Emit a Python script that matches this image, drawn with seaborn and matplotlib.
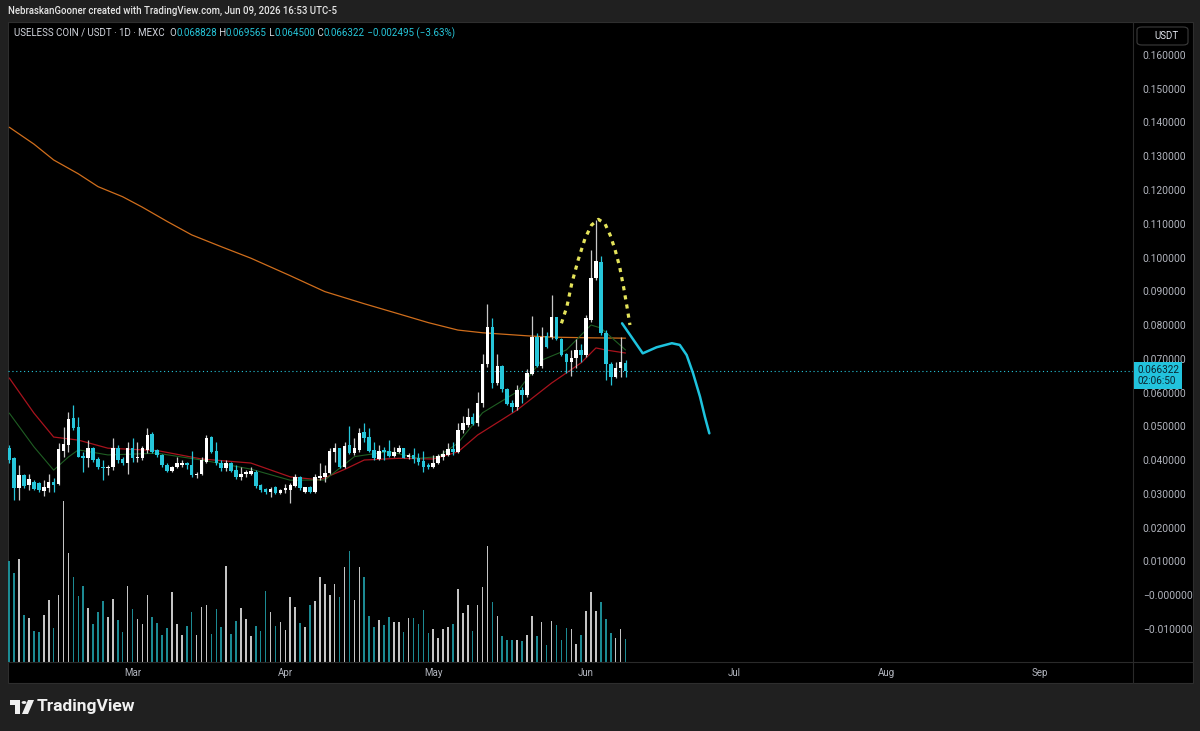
import matplotlib
matplotlib.use('Agg')
import matplotlib.pyplot as plt
import matplotlib.dates as mdates
import matplotlib.transforms as mtransforms
from matplotlib.patches import Rectangle, FancyBboxPatch, Polygon, Circle
from matplotlib.lines import Line2D
import numpy as np
import pandas as pd
import seaborn as sns

# ---- data (USELESS/USDT daily, MEXC) ----
start = '2026-02-04'
opens = [0.0435, 0.0405, 0.0316, 0.0356, 0.0326, 0.0335, 0.0333, 0.0309, 0.0316, 0.0336,
         0.0329, 0.0428, 0.0444, 0.0525, 0.0499, 0.0412, 0.0405, 0.0435, 0.0403, 0.0380,
         0.0375, 0.0378, 0.0435, 0.0402, 0.0390, 0.0437, 0.0405, 0.0405, 0.0430, 0.0476,
         0.0430, 0.0415, 0.0385, 0.0368, 0.0378, 0.0385, 0.0390, 0.0385, 0.0356, 0.0360,
         0.0395, 0.0467, 0.0428, 0.0392, 0.0375, 0.0390, 0.0370, 0.0349, 0.0358, 0.0360,
         0.0365, 0.0326, 0.0313, 0.0305, 0.0319, 0.0303, 0.0311, 0.0311, 0.0323, 0.0349,
         0.0306, 0.0321, 0.0306, 0.0346, 0.0351, 0.0362, 0.0425, 0.0435, 0.0378, 0.0444,
         0.0420, 0.0430, 0.0484, 0.0467, 0.0430, 0.0403, 0.0427, 0.0427, 0.0413, 0.0425,
         0.0435, 0.0408, 0.0415, 0.0405, 0.0397, 0.0385, 0.0378, 0.0392, 0.0408, 0.0415,
         0.0433, 0.0423, 0.0489, 0.0504, 0.0526, 0.0509, 0.0568, 0.0684, 0.0793, 0.0627,
         0.0678, 0.0610, 0.0570, 0.0556, 0.0607, 0.0593, 0.0655, 0.0763, 0.0678, 0.0767,
         0.0765, 0.0823, 0.0760, 0.0714, 0.0691, 0.0701, 0.0726, 0.0711, 0.0815, 0.0938,
         0.0988, 0.0775, 0.0684, 0.0647, 0.0672, 0.068828]
highs = [0.0444, 0.0410, 0.0385, 0.0358, 0.0360, 0.0340, 0.0336, 0.0341, 0.0358, 0.0346,
         0.0449, 0.0499, 0.0543, 0.0563, 0.0528, 0.0425, 0.0459, 0.0439, 0.0408, 0.0400,
         0.0385, 0.0464, 0.0444, 0.0410, 0.0454, 0.0464, 0.0454, 0.0442, 0.0494, 0.0482,
         0.0432, 0.0418, 0.0390, 0.0383, 0.0408, 0.0400, 0.0395, 0.0428, 0.0365, 0.0410,
         0.0474, 0.0471, 0.0454, 0.0400, 0.0400, 0.0395, 0.0385, 0.0380, 0.0370, 0.0378,
         0.0370, 0.0328, 0.0316, 0.0321, 0.0323, 0.0314, 0.0329, 0.0331, 0.0358, 0.0352,
         0.0321, 0.0323, 0.0358, 0.0390, 0.0385, 0.0435, 0.0449, 0.0437, 0.0454, 0.0501,
         0.0464, 0.0494, 0.0509, 0.0494, 0.0454, 0.0444, 0.0439, 0.0459, 0.0439, 0.0444,
         0.0437, 0.0420, 0.0435, 0.0420, 0.0428, 0.0390, 0.0415, 0.0418, 0.0430, 0.0451,
         0.0454, 0.0511, 0.0530, 0.0553, 0.0538, 0.0602, 0.0714, 0.0862, 0.0820, 0.0714,
         0.0681, 0.0612, 0.0578, 0.0622, 0.0617, 0.0669, 0.0828, 0.0775, 0.0795, 0.0780,
         0.0889, 0.0825, 0.0762, 0.0716, 0.0726, 0.0760, 0.0745, 0.0830, 0.1022, 0.1111,
         0.1005, 0.0785, 0.0691, 0.0691, 0.0765, 0.069565]
lows = [0.0390, 0.0281, 0.0281, 0.0318, 0.0311, 0.0310, 0.0306, 0.0293, 0.0306, 0.0306,
        0.0326, 0.0410, 0.0425, 0.0489, 0.0408, 0.0365, 0.0380, 0.0395, 0.0372, 0.0341,
        0.0356, 0.0370, 0.0390, 0.0385, 0.0360, 0.0395, 0.0395, 0.0400, 0.0420, 0.0420,
        0.0410, 0.0380, 0.0365, 0.0365, 0.0375, 0.0380, 0.0372, 0.0351, 0.0346, 0.0356,
        0.0390, 0.0420, 0.0385, 0.0368, 0.0368, 0.0365, 0.0343, 0.0341, 0.0351, 0.0356,
        0.0318, 0.0306, 0.0300, 0.0291, 0.0300, 0.0300, 0.0301, 0.0272, 0.0319, 0.0311,
        0.0303, 0.0303, 0.0301, 0.0341, 0.0336, 0.0358, 0.0395, 0.0375, 0.0375, 0.0418,
        0.0415, 0.0425, 0.0454, 0.0425, 0.0400, 0.0400, 0.0400, 0.0410, 0.0408, 0.0420,
        0.0405, 0.0402, 0.0390, 0.0385, 0.0365, 0.0372, 0.0375, 0.0388, 0.0400, 0.0412,
        0.0415, 0.0420, 0.0479, 0.0499, 0.0504, 0.0501, 0.0558, 0.0677, 0.0612, 0.0622,
        0.0602, 0.0563, 0.0543, 0.0548, 0.0568, 0.0588, 0.0652, 0.0676, 0.0674, 0.0731,
        0.0760, 0.0757, 0.0708, 0.0657, 0.0649, 0.0672, 0.0691, 0.0706, 0.0810, 0.0933,
        0.0770, 0.0637, 0.0622, 0.0642, 0.0647, 0.064500]
closes = [0.0400, 0.0316, 0.0356, 0.0323, 0.0343, 0.0315, 0.0311, 0.0319, 0.0335, 0.0326,
          0.0432, 0.0447, 0.0521, 0.0494, 0.0410, 0.0405, 0.0435, 0.0400, 0.0378, 0.0375,
          0.0380, 0.0435, 0.0400, 0.0390, 0.0435, 0.0405, 0.0410, 0.0435, 0.0474, 0.0425,
          0.0415, 0.0385, 0.0368, 0.0378, 0.0392, 0.0390, 0.0385, 0.0356, 0.0360, 0.0400,
          0.0464, 0.0425, 0.0390, 0.0375, 0.0390, 0.0368, 0.0349, 0.0358, 0.0365, 0.0368,
          0.0323, 0.0311, 0.0305, 0.0315, 0.0303, 0.0311, 0.0316, 0.0326, 0.0349, 0.0316,
          0.0319, 0.0306, 0.0349, 0.0354, 0.0362, 0.0428, 0.0435, 0.0378, 0.0441, 0.0422,
          0.0435, 0.0479, 0.0464, 0.0428, 0.0405, 0.0427, 0.0425, 0.0413, 0.0425, 0.0437,
          0.0407, 0.0415, 0.0402, 0.0395, 0.0378, 0.0378, 0.0392, 0.0412, 0.0418, 0.0432,
          0.0423, 0.0489, 0.0509, 0.0528, 0.0507, 0.0568, 0.0684, 0.0793, 0.0627, 0.0678,
          0.0609, 0.0566, 0.0556, 0.0607, 0.0593, 0.0657, 0.0763, 0.0678, 0.0765, 0.0736,
          0.0823, 0.0760, 0.0711, 0.0691, 0.0703, 0.0726, 0.0711, 0.0820, 0.0938, 0.0991,
          0.0775, 0.0684, 0.0647, 0.0672, 0.0691, 0.066322]
volumes = [101, 89, 103, 47, 44, 31, 30, 47, 62, 34, 67, 161, 109, 85, 66, 76, 54, 38, 50, 61,
           45, 63, 42, 30, 76, 53, 43, 38, 67, 45, 39, 27, 34, 70, 38, 27, 36, 50, 27, 55,
           57, 28, 53, 35, 96, 28, 41, 54, 43, 26, 36, 31, 71, 50, 36, 40, 32, 65, 55, 39,
           35, 57, 61, 85, 78, 67, 78, 65, 95, 111, 62, 95, 85, 46, 35, 42, 37, 45, 40, 40,
           30, 44, 44, 38, 52, 29, 33, 24, 33, 35, 38, 73, 49, 57, 31, 57, 75, 116, 60, 46,
           26, 22, 22, 22, 21, 27, 46, 26, 40, 17, 41, 37, 22, 34, 33, 18, 27, 51, 70, 51,
           60, 43, 29, 24, 33, 23]

# moving averages (day offset from start, price)
ma_long_days = [0, 5, 9, 14, 18, 23, 27, 32, 37, 43, 49, 57, 64, 72, 79, 85, 91, 96, 100,
                105, 110, 118, 125]
ma_long_vals = [0.1386, 0.1336, 0.1289, 0.1248, 0.1210, 0.1180, 0.1149, 0.1107, 0.1067,
                0.1032, 0.0998, 0.0946, 0.0899, 0.0863, 0.0833, 0.0807, 0.0785, 0.0777,
                0.0773, 0.0768, 0.0764, 0.0762, 0.0761]
ma_mid_days = [0, 5, 9, 14, 20, 30, 39, 49, 57, 63, 68, 72, 79, 86, 91, 95, 100, 103, 110,
               116, 119, 121, 125]
ma_mid_vals = [0.0643, 0.0539, 0.0468, 0.0459, 0.0435, 0.0428, 0.0403, 0.0391, 0.0350,
               0.0341, 0.0372, 0.0400, 0.0405, 0.0403, 0.0424, 0.0474, 0.0520, 0.0548,
               0.0628, 0.0688, 0.0732, 0.0726, 0.0717]
ma_fast_days = [0, 5, 9, 12, 14, 20, 30, 39, 49, 57, 64, 70, 77, 83, 87, 91, 96, 103, 108,
                113, 118, 120, 125]
ma_fast_vals = [0.0539, 0.0439, 0.0370, 0.0409, 0.0430, 0.0415, 0.0420, 0.0400, 0.0373,
                0.0340, 0.0341, 0.0410, 0.0425, 0.0405, 0.0410, 0.0450, 0.0540, 0.0602,
                0.0696, 0.0726, 0.0800, 0.0791, 0.0726]

# drawings: dotted top arc and projected path
arc_days = [112.0, 113.1, 114.1, 115.4, 116.8, 118.1, 119.5, 120.8, 121.9, 122.9, 123.8,
            124.6, 125.3, 125.9]
arc_vals = [0.0805, 0.0854, 0.0923, 0.0993, 0.1057, 0.1096, 0.1113, 0.1101, 0.1066, 0.1022,
            0.0973, 0.0913, 0.0854, 0.0800]
path_days = [124.3, 128.5, 131.3, 134.4, 136.0, 137.4, 138.7, 140.1, 141.1, 142.0]
path_vals = [0.0805, 0.0716, 0.0734, 0.0746, 0.0741, 0.0711, 0.0657, 0.0588, 0.0528, 0.0479]

price_ticks = [0.16, 0.15, 0.14, 0.13, 0.12, 0.11, 0.10, 0.09, 0.08, 0.07, 0.06, 0.05,
               0.04, 0.03, 0.02, 0.01, 0.0, -0.01]

# ---- style ----
sns.set_theme(style='dark')
plt.rcParams['font.family'] = ['Roboto', 'DejaVu Sans']

UP = '#ffffff'
DOWN = '#26c6da'
UP_WICK = '#c8c8c8'
VOL_UP = '#c4c4c4'
VOL_DOWN = '#1c8a93'
TXT = '#b2b5be'
GRID = '#2a2a2a'

W, H = 1200, 731
fig = plt.figure(figsize=(W / 100, H / 100), dpi=100, facecolor='#202020')


def fx(px):
    return px / W


def fy(py):
    return 1 - py / H


# chart box background
fig.patches.append(Rectangle((fx(8), fy(683)), fx(1193) - fx(8), fy(22) - fy(683),
                             transform=fig.transFigure, facecolor='black', edgecolor='#2e2e2e',
                             lw=0.8, zorder=-5))

ax = fig.add_axes([fx(8), fy(662), fx(1133) - fx(8), fy(22) - fy(662)])
vax = ax.twinx()
vax.set_zorder(1)
ax.set_zorder(2)
ax.patch.set_visible(False)
vax.patch.set_visible(False)

df = pd.DataFrame({'date': pd.date_range(start, periods=len(opens), freq='D'),
                   'open': opens, 'high': highs, 'low': lows, 'close': closes,
                   'volume': volumes})
df['up'] = df['close'] >= df['open']
t0 = pd.Timestamp(start)

# volume
vax.bar(df['date'], df['volume'], width=0.32,
        color=np.where(df['up'], VOL_UP, VOL_DOWN), linewidth=0)
vax.set_ylim(0, max(volumes) * 640 / 161)
vax.set_axis_off()

# moving averages
sns.lineplot(x=t0 + pd.to_timedelta(ma_long_days, unit='D'), y=ma_long_vals, ax=ax,
             color='#d06e1c', lw=0.9)
sns.lineplot(x=t0 + pd.to_timedelta(ma_mid_days, unit='D'), y=ma_mid_vals, ax=ax,
             color='#a8131d', lw=0.9)
sns.lineplot(x=t0 + pd.to_timedelta(ma_fast_days, unit='D'), y=ma_fast_vals, ax=ax,
             color='#1f5e23', lw=0.8)

# candles
ax.vlines(df['date'], df['low'], df['high'],
          colors=np.where(df['up'], UP_WICK, DOWN), lw=0.9, zorder=3)
body_lo = np.minimum(df['open'], df['close'])
body_h = np.maximum(np.abs(df['close'] - df['open']), 0.0004)
ax.bar(df['date'], body_h, bottom=body_lo, width=0.72,
       color=np.where(df['up'], UP, DOWN), linewidth=0, zorder=4)

# drawings
ax.plot(t0 + pd.to_timedelta(arc_days, unit='D'), arc_vals, color='#e4e35a', lw=2.3,
        ls=(0, (1.3, 1.6)), zorder=5)
ax.plot(t0 + pd.to_timedelta(path_days, unit='D'), path_vals, color='#1ec3de', lw=1.8,
        zorder=5, solid_capstyle='round')

# last price line
last = closes[-1]
ax.axhline(last, color=DOWN, lw=0.8, ls=(0, (1, 2.5)), zorder=2)

# axes limits
x_left = mdates.date2num(t0) - 0.26
ax.set_xlim(x_left, x_left + 228.2)
ax.set_ylim(0.16 - 607 / 3375, 0.16 + 33 / 3375)
ax.set_xlabel('')
ax.set_ylabel('')

ax.yaxis.tick_right()
ax.set_yticks(price_ticks)
ax.yaxis.set_major_formatter(plt.FuncFormatter(
    lambda v, p: '\u22120.000000' if abs(v) < 1e-9 else f'{v:.6f}'.replace('-', '\u2212')))
ax.tick_params(axis='y', length=0, pad=7, labelsize=7.4, labelcolor=TXT)
ax.xaxis.set_major_locator(mdates.MonthLocator())
ax.xaxis.set_major_formatter(mdates.DateFormatter('%b'))
ax.tick_params(axis='x', length=0, pad=4, labelsize=7, labelcolor=TXT)
ax.grid(False)
for s in ax.spines.values():
    s.set_visible(False)
for s in vax.spines.values():
    s.set_visible(False)

# last price tag on the axis
tr = mtransforms.blended_transform_factory(ax.transAxes, ax.transData)
ax.annotate(f'{last:.6f}\n02:06:50', xy=(1.0, last), xycoords=tr,
            xytext=(4, -4), textcoords='offset pixels', va='center', ha='left',
            fontsize=7.2, color='#0b2530', linespacing=1.1, zorder=10,
            annotation_clip=False,
            bbox=dict(boxstyle='square,pad=0.3', fc='#22c3dd', ec='none'))

# separators
fig.add_artist(Line2D([fx(1133), fx(1133)], [fy(22), fy(683)], color=GRID, lw=0.8))
fig.add_artist(Line2D([fx(8), fx(1193)], [fy(662), fy(662)], color=GRID, lw=0.8))

# USDT box
fig.patches.append(FancyBboxPatch((fx(1137), fy(45)), fx(1188) - fx(1137), fy(27) - fy(45),
                                  boxstyle='round,pad=0,rounding_size=0.004',
                                  transform=fig.transFigure, fc='black', ec='#3c3c3c', lw=0.8))
fig.text(fx(1154), fy(36), 'USDT', color='#e0e3eb', fontsize=7, va='center', ha='left')

# header texts
fig.text(fx(8), fy(11), 'NebraskanGooner created with TradingView.com, Jun 09, 2026 16:53 UTC-5',
         color='#e6e6e6', fontsize=6.9, va='center', ha='left', fontweight='medium')

renderer = fig.canvas.get_renderer()
pieces = [('USELESS COIN / USDT \u00b7 1D \u00b7 MEXC  ', '#d1d4dc'), ('O', '#d1d4dc'),
          ('0.068828', DOWN), (' H', '#d1d4dc'), ('0.069565', DOWN), (' L', '#d1d4dc'),
          ('0.064500', DOWN), (' C', '#d1d4dc'), ('0.066322', DOWN),
          (' \u22120.002495 (\u22123.63%)', DOWN)]
xp = 14
for s, c in pieces:
    t = fig.text(fx(xp), fy(33), s, color=c, fontsize=7.0, va='center', ha='left')
    xp += t.get_window_extent(renderer=renderer).width

# TradingView logo
logo = '#f0f0f0'
fig.patches.append(Rectangle((fx(10), fy(705)), fx(20) - fx(10), fy(700) - fy(705),
                             transform=fig.transFigure, fc=logo, ec='none'))
fig.patches.append(Rectangle((fx(15), fy(714)), fx(20) - fx(15), fy(700) - fy(714),
                             transform=fig.transFigure, fc=logo, ec='none'))
fig.patches.append(Circle((fx(24), fy(702.5)), 2.4 / W, transform=fig.transFigure,
                          fc=logo, ec='none'))
fig.patches.append(Polygon([(fx(28), fy(700)), (fx(34), fy(700)), (fx(28), fy(714)),
                            (fx(22), fy(714))], transform=fig.transFigure, fc=logo, ec='none'))
fig.text(fx(37), fy(707), 'TradingView', color=logo, fontsize=12.5, fontweight='bold',
         va='center', ha='left')

fig.savefig('out.png', dpi=100, facecolor=fig.get_facecolor())
